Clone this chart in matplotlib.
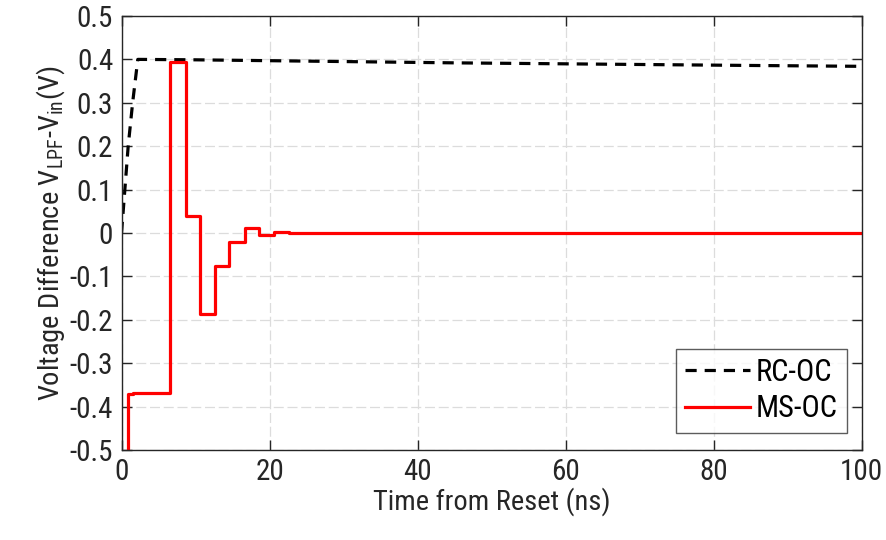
import matplotlib
matplotlib.use('Agg')
import matplotlib.pyplot as plt
import numpy as np

# RC-OC: ramps up to ~0.4 V, then drifts down slowly
rc_t = [0, 0.45, 0.9, 1.5, 2.2, 10, 25, 45, 65, 85, 100]
rc_v = [0, 0.1, 0.2, 0.3, 0.4, 0.399, 0.396, 0.392, 0.389, 0.386, 0.384]

# MS-OC: stepped settling (value held until the next time)
ms_t = [0.9, 0.9, 1.6, 6.5, 8.7, 10.6, 12.6, 14.5, 16.7, 18.6, 20.6, 22.6, 24.8, 100]
ms_v = [-0.5, -0.372, -0.368, 0.395, 0.039, -0.187, -0.075, -0.020, 0.011, -0.004, 0.002, -0.001, 0.0, 0.0]

font = ['Roboto Condensed', 'Archivo Narrow', 'Liberation Sans', 'DejaVu Sans']
plt.rcParams['font.family'] = font
plt.rcParams['mathtext.fontset'] = 'custom'
plt.rcParams['mathtext.rm'] = font[0]
plt.rcParams['mathtext.it'] = font[0]

fig = plt.figure(figsize=(8.87, 5.4), dpi=100)
ax = fig.add_axes([0.137, 0.1667, 0.8345, 0.8037])

ax.plot(rc_t, rc_v, color='black', linewidth=2.3, dashes=(3.5, 2.5), label='RC-OC')
ax.step(ms_t, ms_v, where='post', color='#ff0000', linewidth=2.3, label='MS-OC')

ax.set_xlim(0, 100)
ax.set_ylim(-0.5, 0.5)
ax.set_xticks(np.arange(0, 101, 20))
ax.set_yticks(np.round(np.arange(-0.5, 0.51, 0.1), 1))
ax.set_yticklabels(['-0.5', '-0.4', '-0.3', '-0.2', '-0.1', '0', '0.1', '0.2', '0.3', '0.4', '0.5'])

ax.grid(True, color='#dcdcdc', linestyle=(0, (8, 3)), linewidth=0.9)
ax.set_axisbelow(True)
ax.tick_params(direction='in', top=True, right=True, length=7, width=1,
               labelsize=21, colors='#262626', pad=6)
for s in ax.spines.values():
    s.set_color('#262626')
    s.set_linewidth(1.0)

ax.set_xlabel('Time from Reset (ns)', fontsize=20.5, color='#262626', labelpad=1)
ax.set_ylabel('Voltage Difference V$_{\\mathrm{LPF}}$-V$_{\\mathrm{in}}$(V)',
              fontsize=20.5, color='#262626', labelpad=2)

leg = ax.legend(loc='lower right', fontsize=22, handlelength=2.1, handletextpad=0.2,
                borderpad=0.3, labelspacing=0.25, fancybox=False,
                bbox_to_anchor=(0.98, 0.04), borderaxespad=0)
leg.get_frame().set_edgecolor('#333333')
leg.get_frame().set_linewidth(1.0)

fig.savefig('out.png', dpi=100)
